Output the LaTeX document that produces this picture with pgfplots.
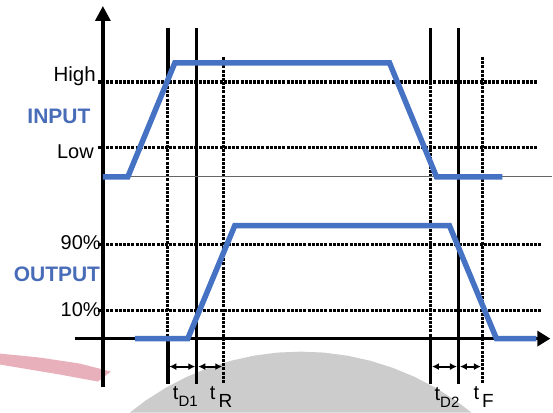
\documentclass[border=0pt]{standalone}
\usepackage{pgfplots}
\pgfplotsset{compat=1.18}
\usepackage{fontspec}
\setmainfont{Liberation Sans}
\usetikzlibrary{arrows.meta}
\definecolor{sigblue}{RGB}{70,114,196}
\definecolor{txtblue}{RGB}{72,108,184}
\definecolor{bggray}{RGB}{204,204,204}
\definecolor{swoosh}{RGB}{232,176,186}
\begin{document}
\begin{tikzpicture}
\begin{axis}[scale only axis, width=553pt, height=413pt,
  xmin=0, xmax=553, ymin=0, ymax=413, y dir=reverse,
  hide axis, clip=false]
% frame (invisible)
\addplot[draw=none] coordinates {(0,0) (553,413)};
% background decorations
\addplot[fill=bggray, draw=none] coordinates {(130,413)(146.1,400.8)(166,388.2)(186.9,377.3)(208.7,368.3)(231.1,361.2)(254.1,356.1)(277.5,353)(301,352)(324.5,353)(347.9,356.1)(370.9,361.2)(393.3,368.3)(415.1,377.3)(436,388.2)(455.9,400.8)(472,413)} -- cycle;
\addplot[fill=swoosh, draw=none] coordinates {(0,354)(40,358)(80,364)(111,372)(98,382)(60,375)(0,365)} -- cycle;
% dotted horizontal levels
\pgfplotsset{dotl/.style={black, line width=3.2pt, dash pattern=on 3pt off 1.2pt}}
\addplot[dotl] coordinates {(98,82)(538,82)};
\addplot[dotl] coordinates {(98,148)(538,148)};
\addplot[dotl] coordinates {(98,245)(542,245)};
\addplot[dotl] coordinates {(98,311)(542,311)};
% vertical markers
\addplot[black, line width=3.4pt] coordinates {(168,28)(168,82)};
\addplot[dotl] coordinates {(168,82)(168,338)};
\addplot[black, line width=3.4pt] coordinates {(168,338)(168,384)};
\addplot[black, line width=3.4pt] coordinates {(197,28)(197,384)};
\addplot[dotl] coordinates {(224,57)(224,384)};
\addplot[black, line width=3.4pt] coordinates {(431,28)(431,82)};
\addplot[dotl] coordinates {(431,82)(431,338)};
\addplot[black, line width=3.4pt] coordinates {(431,338)(431,384)};
\addplot[black, line width=3.4pt] coordinates {(459,28)(459,384)};
\addplot[dotl] coordinates {(483,57)(483,384)};
% input baseline
\addplot[black!60, line width=1.3pt] coordinates {(103,177)(553,177)};
% axes
\addplot[black, line width=3.4pt, -{Triangle[length=15pt,width=15pt]}] coordinates {(103,387)(103,6)};
\addplot[black, line width=3.4pt, -{Triangle[length=13pt,width=15pt]}] coordinates {(75,339)(551,339)};
% signals
\addplot[sigblue, line width=5.5pt] coordinates {(103,177)(128,177)(175,63)(390,63)(437,177)(503,177)};
\addplot[sigblue, line width=5.5pt] coordinates {(135,339)(188,339)(235,226)(450,226)(497,339)(537,339)};
% timing arrows
\pgfplotsset{tarr/.style={black, line width=2pt, {Latex[length=7pt,width=7pt]}-{Latex[length=7pt,width=7pt]}}}
\addplot[tarr] coordinates {(169.5,367)(195.5,367)};
\addplot[tarr] coordinates {(198.5,367)(222.5,367)};
\addplot[tarr] coordinates {(432.5,367)(457.5,367)};
\addplot[tarr] coordinates {(460.5,367)(481.5,367)};
% labels
\node[anchor=east, inner sep=0pt, font=\fontsize{20.5}{24}\selectfont] at (axis cs:96,76) {High};
\node[anchor=east, inner sep=0pt, font=\fontsize{20}{24}\selectfont] at (axis cs:94,152) {Low};
\node[anchor=east, inner sep=0pt, font=\fontsize{20}{24}\selectfont] at (axis cs:101,243) {90\%};
\node[anchor=east, inner sep=0pt, font=\fontsize{20}{24}\selectfont] at (axis cs:101,310) {10\%};
\node[inner sep=0pt, text=txtblue, font=\bfseries\fontsize{21}{24}\selectfont] at (axis cs:59,117) {INPUT};
\node[inner sep=0pt, text=txtblue, font=\bfseries\fontsize{21}{24}\selectfont] at (axis cs:57,275) {OUTPUT};
\node[anchor=base west, inner sep=0pt, font=\fontsize{20}{24}\selectfont] at (axis cs:173,400) {t\raisebox{-7pt}{\fontsize{15}{18}\selectfont D1}};
\node[anchor=base west, inner sep=0pt, font=\fontsize{20}{24}\selectfont] at (axis cs:210,400) {t\hspace{3pt}\raisebox{-8pt}{\fontsize{19}{22}\selectfont R}};
\node[anchor=base west, inner sep=0pt, font=\fontsize{20}{24}\selectfont] at (axis cs:435,401) {t\raisebox{-7pt}{\fontsize{15}{18}\selectfont D2}};
\node[anchor=base west, inner sep=0pt, font=\fontsize{20}{24}\selectfont] at (axis cs:474,400) {t\hspace{3pt}\raisebox{-8pt}{\fontsize{19}{22}\selectfont F}};
\end{axis}
\end{tikzpicture}
\end{document}
